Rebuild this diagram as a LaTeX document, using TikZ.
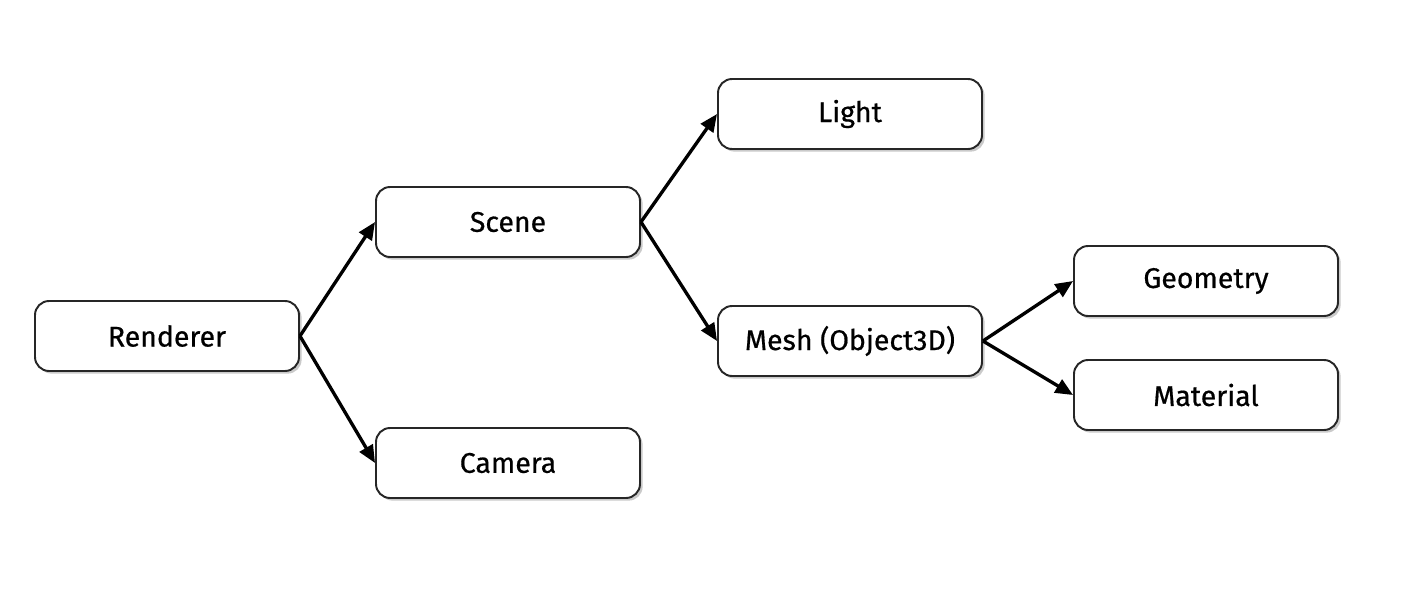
\documentclass[tikz,border=0pt]{standalone}
\usepackage{fontspec}
\setmainfont{Fira Sans}
\newfontfamily\blockfont{Fira Sans}[FakeBold=0.6]
\usetikzlibrary{arrows.meta, shadows}
\tikzstyle{block} = [rectangle, rounded corners=8pt, draw=black!85, line width=1.1pt, fill=white, minimum width=264*0.02cm, minimum height=70*0.02cm, text centered, font=\blockfont\fontsize{16.2}{19}\selectfont, drop shadow={shadow xshift=1.5pt, shadow yshift=-1.5pt, opacity=0.35, fill=black!60}]
\tikzstyle{arrow} = [line width=1.9pt, -{Triangle[length=10pt,width=8.5pt]}]

\begin{document}
\begin{tikzpicture}[x=0.02cm, y=-0.02cm]
        \useasboundingbox (0,0) rectangle (1410,612);
        \node[block] (renderer) at (167,336) {Renderer};
        \node[block] (scene) at (508,222) {Scene};
        \node[block] (camera) at (508,463) {Camera};
        \node[block] (light) at (850,114) {Light};
        \node[block] (mesh) at (850,341) {Mesh (Object3D)};
        \node[block] (geometry) at (1206,281) {Geometry};
        \node[block] (material) at (1206,395) {Material};
        \draw[arrow] (renderer.east) -- (scene.west);
        \draw[arrow] (renderer.east) -- (camera.west);
        \draw[arrow] (scene.east) -- (light.west);
        \draw[arrow] (scene.east) -- (mesh.west);
        \draw[arrow] (mesh.east) -- (geometry.west);
        \draw[arrow] (mesh.east) -- (material.west);
    \end{tikzpicture}
\end{document}
